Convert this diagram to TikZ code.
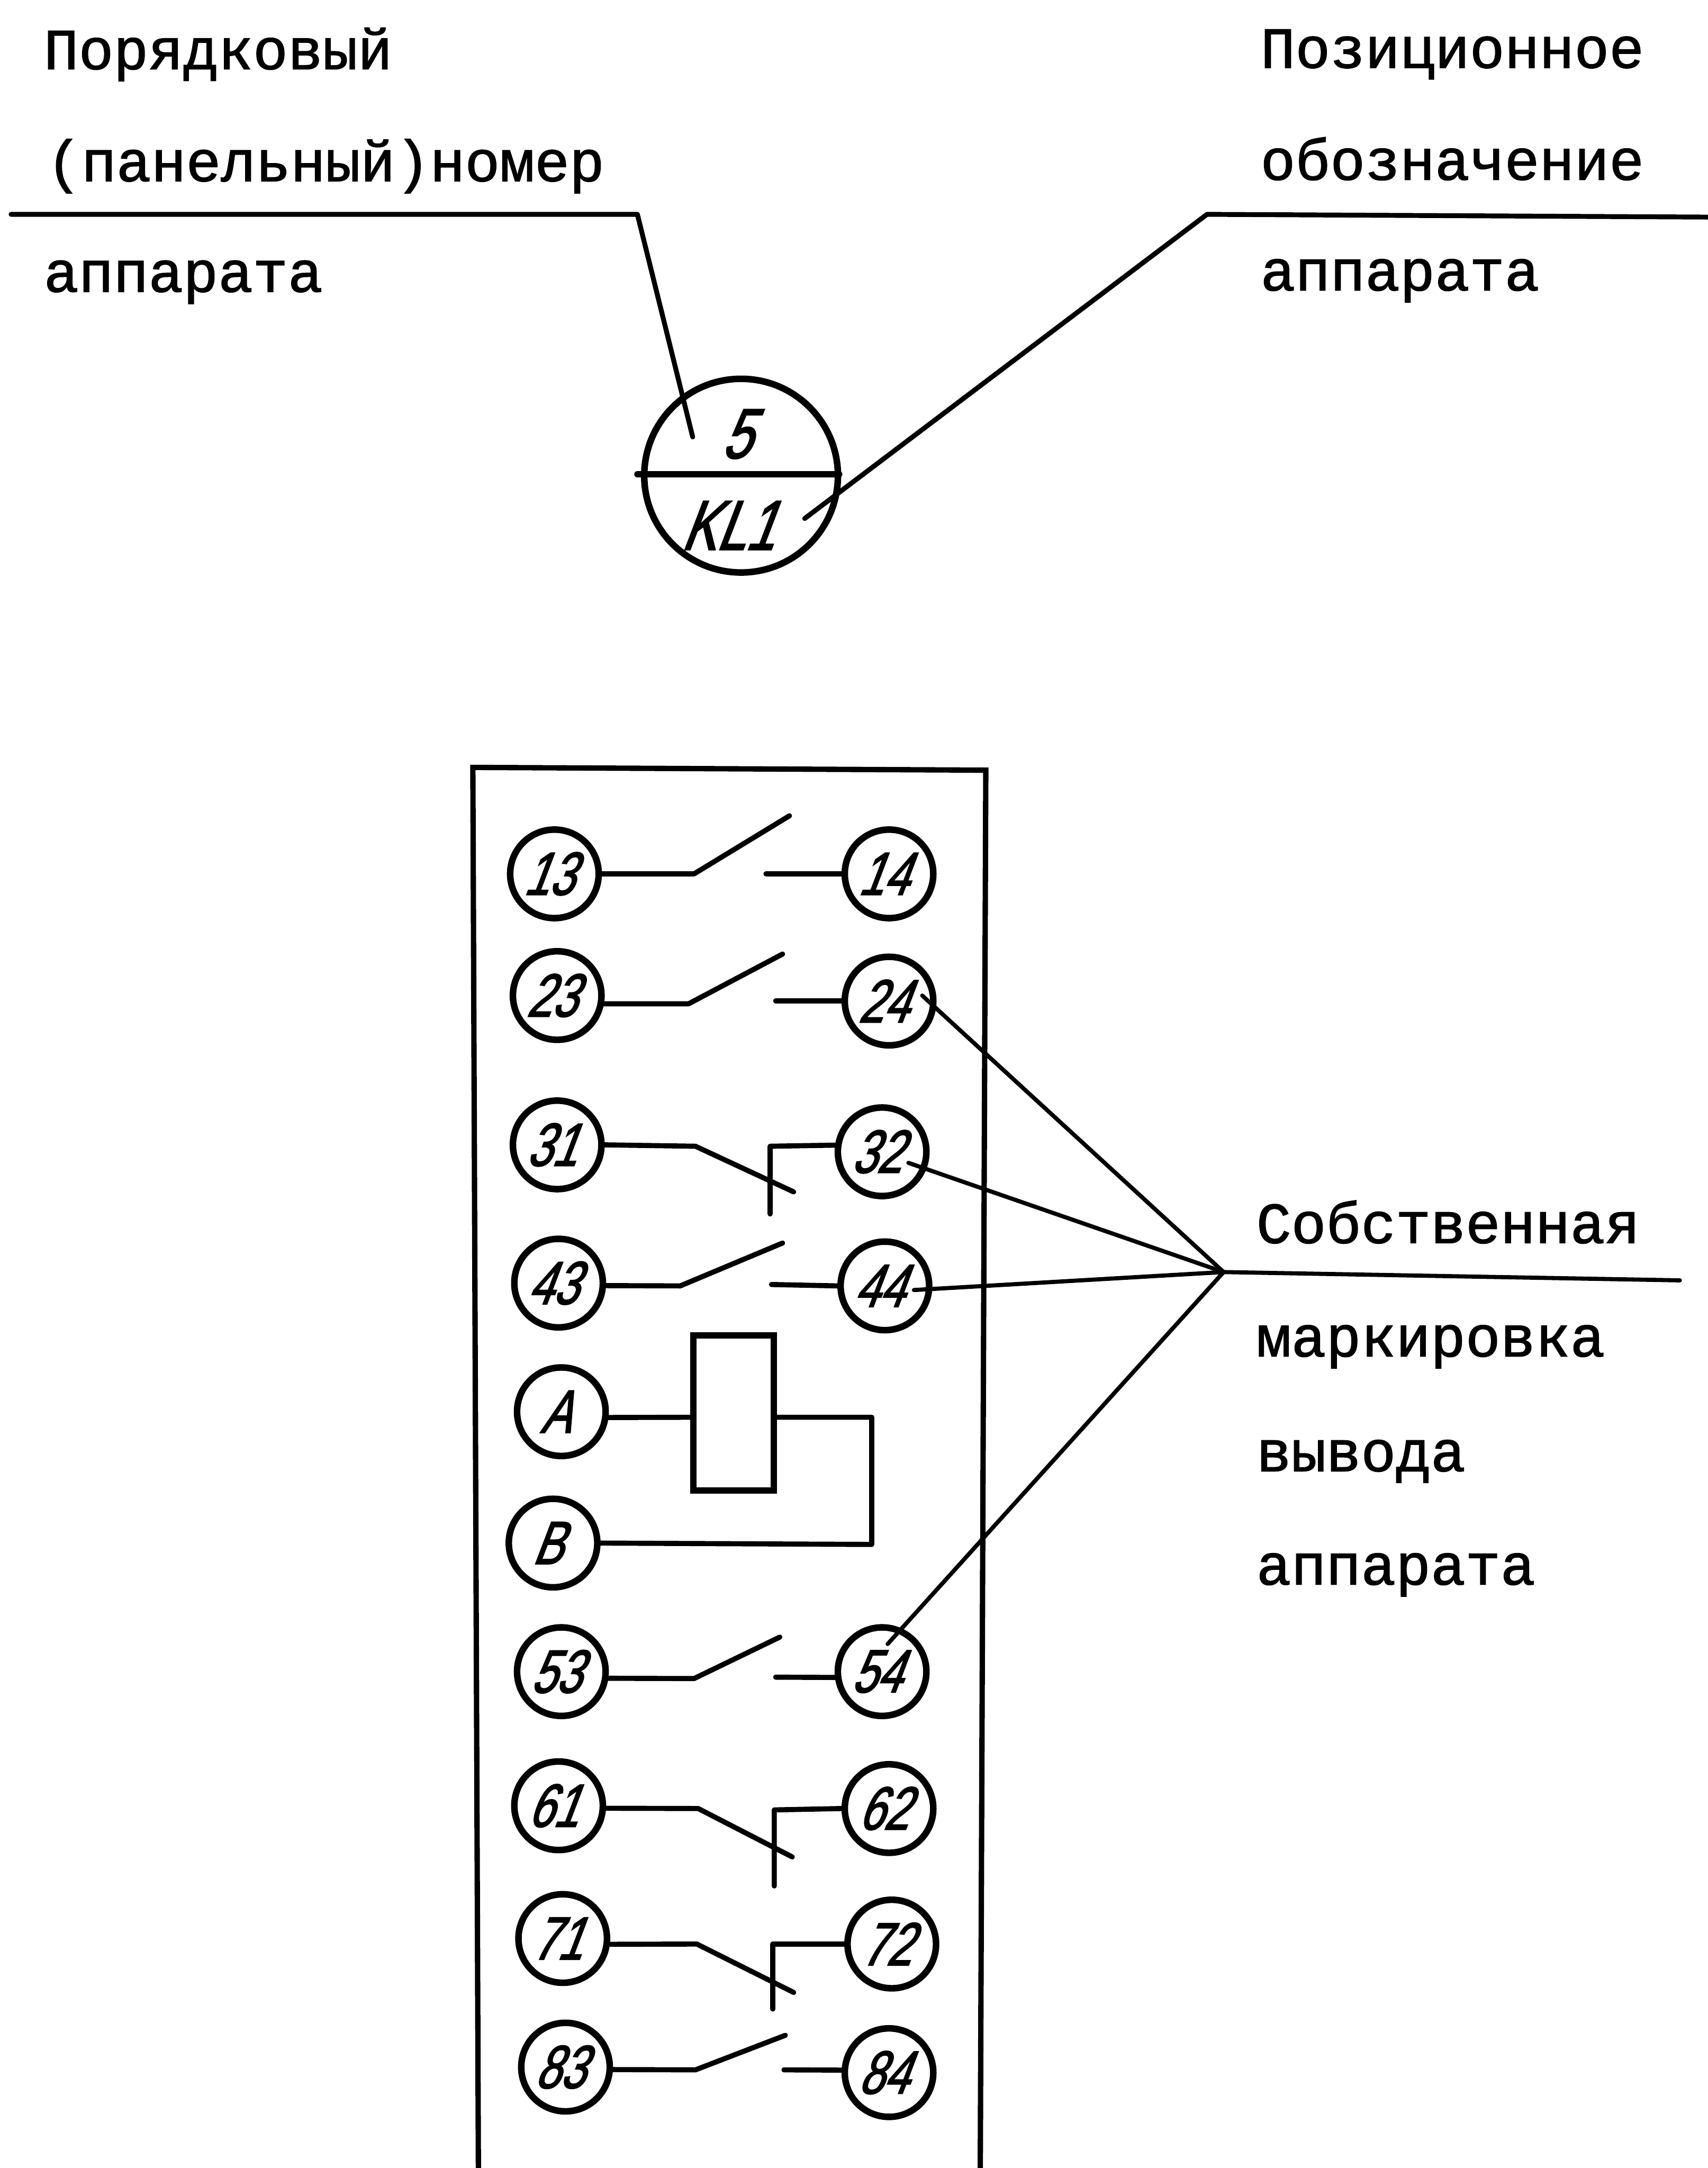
\documentclass[tikz,border=0pt]{standalone}
\usepackage{fontspec}
\setmainfont{Liberation Mono}
\newfontfamily\typew[FakeBold=1.4]{Liberation Mono}
\newfontfamily\hand[FakeSlant=0.38,FakeStretch=0.74,FakeBold=2]{Liberation Sans}
\newcommand\tnum[1]{#1\kern2.5pt}
\tikzset{
  wire/.style={line width=1.05pt,line cap=round,line join=round},
  leader/.style={line width=0.85pt,line cap=round,line join=round},
  frameline/.style={line width=1.1pt,line join=miter},
  term/.style={circle,draw,line width=1.35pt,inner sep=0pt,minimum size=0.64cm,font=\hand\fontsize{12.5pt}{14pt}\selectfont},
  caption/.style={anchor=base west,inner sep=0pt,font=\typew\fontsize{11.95pt}{14pt}\selectfont},
  handtext/.style={inner sep=0pt,font=\hand\fontsize{14.5pt}{15pt}\selectfont}
}
\begin{document}
\begin{tikzpicture}[x=0.01cm,y=-0.01cm]
\useasboundingbox (0,0) rectangle (1235,1568);
% captions
\node[caption] (t1) at (31,50) {Порядковый};
\node[caption] (t2) at (33,131) {(панельный)номер};
\node[caption] (t3) at (31,211) {аппарата};
\node[caption] (t4) at (911,49) {Позиционное};
\node[caption] (t5) at (911,130) {обозначение};
\node[caption] (t6) at (911,210) {аппарата};
\node[caption] (t7) at (908,899) {Собственная};
\node[caption] (t8) at (908,981) {маркировка};
\node[caption] (t9) at (908,1064) {вывода};
\node[caption] (t10) at (908,1146) {аппарата};
% top symbol
\node[circle,draw,line width=1.35pt,inner sep=0pt,minimum size=1.4cm] (app) at (536,344) {};
\node[handtext] (n5) at (532,314) {5};
\node[handtext] (nKL) at (526,380) {KL1};
\coordinate (appL) at (461,343);
\coordinate (appR) at (607,343);
\draw[wire,line width=1.3pt] (appL) -- (appR);
\coordinate (l0) at (8,155);
\coordinate (l1) at (461,155);
\coordinate (l2) at (501,316);
\draw[leader,line width=1pt] (l0) -- (l1) -- (l2);
\coordinate (r0) at (1235,157);
\coordinate (r1) at (873,155);
\coordinate (r2) at (582,375);
\draw[leader,line width=1pt] (r0) -- (r1) -- (r2);
% panel
\coordinate (pa) at (346,1568);
\coordinate (pb) at (342,555);
\coordinate (pc) at (713,557);
\coordinate (pd) at (709,1568);
\draw[frameline] (pa) -- (pb) -- (pc) -- (pd);
% terminals
\node[term] (c13) at (401,632) {\tnum{13}};
\node[term] (c14) at (643,632) {\tnum{14}};
\node[term] (c23) at (403,720) {\tnum{23}};
\node[term] (c24) at (643,724) {\tnum{24}};
\node[term] (c31) at (403,828) {\tnum{31}};
\node[term] (c32) at (638,833) {\tnum{32}};
\node[term] (c43) at (404,928) {\tnum{43}};
\node[term] (c44) at (640,930) {\tnum{44}};
\node[term] (cA) at (406,1021) {\tnum{A}};
\node[term] (cB) at (400,1116) {\tnum{B}};
\node[term] (c53) at (406,1209) {\tnum{53}};
\node[term] (c54) at (638,1209) {\tnum{54}};
\node[term] (c61) at (404,1306) {\tnum{61}};
\node[term] (c62) at (643,1308) {\tnum{62}};
\node[term] (c71) at (407,1402) {\tnum{71}};
\node[term] (c72) at (645,1406) {\tnum{72}};
\node[term] (c83) at (409,1495) {\tnum{83}};
\node[term] (c84) at (643,1499) {\tnum{84}};
% make-contacts
\coordinate (k13) at (502,632); \coordinate (b13) at (571,590); \coordinate (s14) at (554,632);
\draw[wire] (c13.east) -- (k13) -- (b13); \draw[wire] (s14) -- (c14.west);
\coordinate (k23) at (498,726); \coordinate (b23) at (566,690); \coordinate (s24) at (561,724);
\draw[wire] (c23.-10) -- (k23) -- (b23); \draw[wire] (s24) -- (c24.west);
\coordinate (k43) at (492,930); \coordinate (b43) at (566,899); \coordinate (s44) at (558,929);
\draw[wire] (c43.-3) -- (k43) -- (b43); \draw[wire] (s44) -- (c44.west);
\coordinate (k53) at (502,1214); \coordinate (b53) at (564,1184); \coordinate (s54) at (561,1213);
\draw[wire] (c53.-8) -- (k53) -- (b53); \draw[wire] (s54) -- (c54.187);
\coordinate (k83) at (503,1497); \coordinate (b83) at (568,1472); \coordinate (s84) at (567,1497);
\draw[wire] (c83.-3) -- (k83) -- (b83); \draw[wire] (s84) -- (c84.177);
% break-contacts
\coordinate (k31) at (503,829); \coordinate (b31) at (574,862); \coordinate (v32a) at (557,878); \coordinate (v32b) at (557,829);
\draw[wire] (c31.east) -- (k31) -- (b31); \draw[wire] (v32a) -- (v32b) -- (c32.172);
\coordinate (k61) at (505,1308); \coordinate (b61) at (573,1343); \coordinate (v62a) at (560,1364); \coordinate (v62b) at (560,1309);
\draw[wire] (c61.-3) -- (k61) -- (b61); \draw[wire] (v62a) -- (v62b) -- (c62.west);
\coordinate (k71) at (504,1406); \coordinate (b71) at (574,1441); \coordinate (v72a) at (559,1453); \coordinate (v72b) at (559,1406);
\draw[wire] (c71.-7) -- (k71) -- (b71); \draw[wire] (v72a) -- (v72b) -- (c72.west);
% coil
\node[draw,line width=1.3pt,minimum width=0.58cm,minimum height=1.12cm,inner sep=0pt] (coil) at (530.5,1022) {};
\coordinate (ca) at (630.5,1025);
\coordinate (cb) at (630.5,1117);
\coordinate (coilR) at (559.5,1025);
\coordinate (coilL) at (501.5,1025);
\draw[wire] (cA.-7) -- (coilL);
\draw[wire] (coilR) -- (ca) -- (cb) -- (cB.east);
% leaders to terminals
\coordinate (m0) at (885,920);
\coordinate (m1) at (1215,926);
\coordinate (e24) at (667,720);
\coordinate (e32) at (657,841);
\coordinate (e44) at (661,933);
\coordinate (e54) at (642,1189);
\draw[leader] (m1) -- (m0) -- (e24);
\draw[leader] (m0) -- (e32);
\draw[leader] (m0) -- (e44);
\draw[leader] (m0) -- (e54);
\end{tikzpicture}
\end{document}
